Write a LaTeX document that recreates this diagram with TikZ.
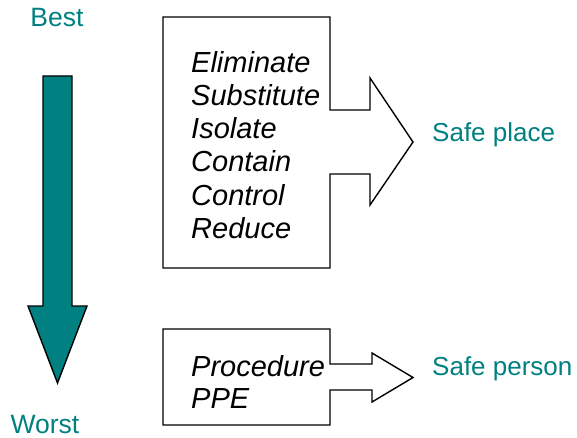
\documentclass[tikz,border=0pt]{standalone}
\usepackage{fontspec}
\setmainfont{Liberation Sans}
\definecolor{teal1}{RGB}{0,128,128}
\begin{document}
\begin{tikzpicture}[x=1pt,y=-1pt,
  shape line/.style={draw=black,line width=1.4pt,line join=miter},
  listtext/.style={anchor=base west,inner sep=0pt,font=\fontsize{29}{33}\selectfont\itshape},
  goaltext/.style={anchor=base west,inner sep=0pt,text=teal1,font=\fontsize{26}{30}\selectfont},
  endtext/.style={anchor=base,inner sep=0pt,text=teal1,font=\fontsize{26.5}{30}\selectfont}]
\useasboundingbox (0,0) rectangle (577,438);
% big arrow
\draw[shape line,fill=teal1] (43,76) -- (72,76) -- (72,306) -- (87,306) -- (57.5,383) -- (28,306) -- (43,306) -- cycle;
\node[endtext] (best) at (57,27) {Best};
\node[endtext] (worst) at (45,433) {Worst};
% callout 1
\draw[shape line,fill=white] (163,17) -- (330,17) -- (330,110) -- (370,110) -- (370,78) -- (413,142) -- (370,205) -- (370,174) -- (330,174) -- (330,268) -- (163,268) -- cycle;
\node[listtext] (l1) at (191,73) {Eliminate};
\node[listtext] (l2) at (191,106) {Substitute};
\node[listtext] (l3) at (191,139) {Isolate};
\node[listtext] (l4) at (191,172) {Contain};
\node[listtext] (l5) at (191,205) {Control};
\node[listtext] (l6) at (191,238) {Reduce};
\node[goaltext] (place) at (432,141.5) {Safe place};
% callout 2
\draw[shape line,fill=white] (163,329) -- (330,329) -- (330,364) -- (372,364) -- (372,353) -- (413,377.5) -- (372,402) -- (372,390) -- (330,390) -- (330,425) -- (163,425) -- cycle;
\node[listtext] (p1) at (191,376.5) {Procedure};
\node[listtext] (p2) at (191,408.5) {PPE};
\node[goaltext] (person) at (432,375) {Safe person};
\end{tikzpicture}
\end{document}
